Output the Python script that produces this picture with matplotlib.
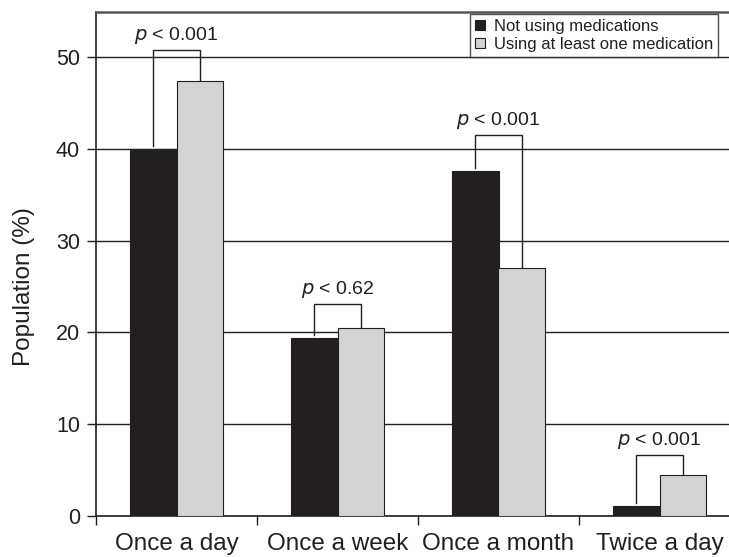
import numpy as np
import matplotlib
matplotlib.use('Agg')
import matplotlib.pyplot as plt
from matplotlib.lines import Line2D

plt.rcParams['font.family'] = ['Liberation Sans', 'DejaVu Sans']

# Dosing frequency groups and percentages per group
categories   = ['Once a day', 'Once a week', 'Once a month', 'Twice a day']
not_using    = [40.0, 19.4, 37.6, 1.1]
using_one    = [47.4, 20.5, 27.0, 4.5]
p_labels     = ['< 0.001', '< 0.62', '< 0.001', '< 0.001']
bracket_tops = [50.8, 23.1, 41.5, 6.6]

INK   = '#231f20'
GREY  = '#d1d3d4'

fig = plt.figure(figsize=(7.29, 5.57), dpi=100)
ax = fig.add_axes([96/729, 41/557, 1 - 96/729, (516 - 12)/557])

x = np.arange(len(categories))
w = 0.286
ax.bar(x - w/2, not_using, width=w, color=INK, edgecolor=INK, linewidth=0.8, zorder=3,
       label='Not using medications')
ax.bar(x + w/2, using_one, width=w, color=GREY, edgecolor=INK, linewidth=0.8, zorder=3,
       label='Using at least one medication')

# significance brackets
for xi, a, b, top, lab in zip(x, not_using, using_one, bracket_tops, p_labels):
    xl, xr = xi - w/2, xi + w/2
    ax.plot([xl, xl, xr, xr], [a + 0.3, top, top, b + 0.1], color=INK, lw=1.0,
            zorder=4, solid_joinstyle='miter')
    ax.text(xi, top + 0.45, r'$\it{p}$ ' + lab, ha='center', va='bottom',
            fontsize=14, color=INK)

ax.set_ylim(0, 54.9)
ax.set_xlim(-0.5, -0.5 + 633/161)
ax.set_yticks([0, 10, 20, 30, 40, 50])
ax.yaxis.grid(True, color=INK, lw=1.0, zorder=0)
ax.set_axisbelow(True)

ax.set_xticks(x)
ax.set_xticklabels(categories, fontsize=17.5, color=INK)
ax.tick_params(axis='x', which='major', length=0, pad=12)
ax.set_xticks([-0.5, 0.5, 1.5, 2.5], minor=True)
ax.tick_params(axis='x', which='minor', length=6.5, width=1.0, color=INK)
ax.tick_params(axis='y', length=6.5, width=1.0, color=INK, labelsize=15.5, labelcolor=INK, pad=5)
ax.set_ylabel('Population (%)', fontsize=17.5, color=INK)
ax.yaxis.set_label_coords(-0.097, 0.455)

for side in ['left', 'bottom']:
    ax.spines[side].set_color(INK)
    ax.spines[side].set_linewidth(1.2)
ax.spines['top'].set_color('#555555')
ax.spines['top'].set_linewidth(1.8)
ax.spines['right'].set_visible(False)

handles = [Line2D([], [], marker='s', ls='none', markersize=6.5, markerfacecolor=INK,
                  markeredgecolor=INK, markeredgewidth=0.8),
           Line2D([], [], marker='s', ls='none', markersize=6.5, markerfacecolor=GREY,
                  markeredgecolor=INK, markeredgewidth=0.8)]
leg = ax.legend(handles, ['Not using medications', 'Using at least one medication'],
                loc='upper right', bbox_to_anchor=(622/633, 1.0 - 2/504), fontsize=12,
                frameon=True, fancybox=False, edgecolor=INK, borderpad=0.3,
                handlelength=0.6, handletextpad=0.5, labelspacing=0.15, borderaxespad=0)
leg.get_frame().set_linewidth(1.0)
for t in leg.get_texts():
    t.set_color(INK)

fig.savefig('out.png', dpi=100)
